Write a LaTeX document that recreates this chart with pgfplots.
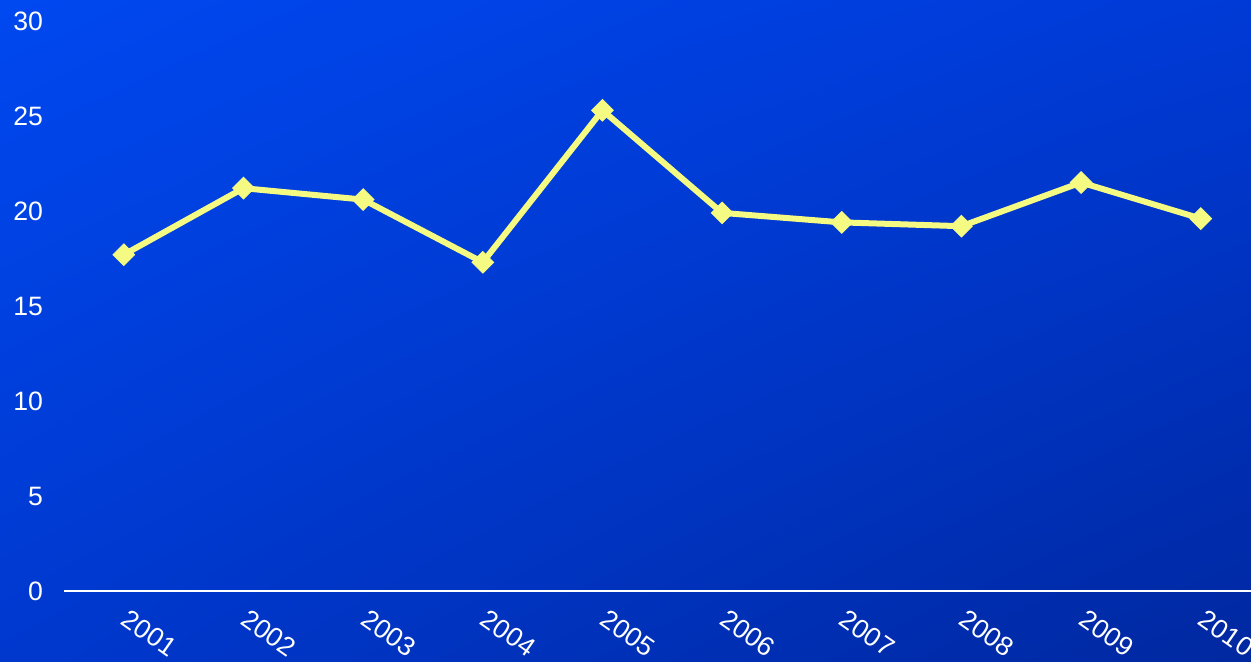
\documentclass[border=0pt]{standalone}
\usepackage{fontspec}
\setmainfont{Liberation Sans}
\usepackage{pgfplots}
\pgfplotsset{compat=1.18}
\usetikzlibrary{shadings}
\definecolor{bgTL}{RGB}{0,72,240}
\definecolor{bgTR}{RGB}{0,58,214}
\definecolor{bgBL}{RGB}{0,56,206}
\definecolor{bgBR}{RGB}{0,40,160}
\definecolor{lineyel}{RGB}{245,250,130}

\begin{document}
\begin{tikzpicture}
% whole picture is 1251x662 px at 0.5pt per px
\path[use as bounding box] (0,0) rectangle (625.5pt,331pt);
\clip (0,0) rectangle (625.5pt,331pt);
\shade[upper left=bgTL, upper right=bgTR, lower left=bgBL, lower right=bgBR]
    (0,0) rectangle (625.5pt,331pt);
\begin{axis}[
    at={(32pt,35.5pt)}, anchor=south west,
    scale only axis,
    width=593.5pt, height=285pt,
    xmin=2000.5, xmax=2010.42,
    ymin=0, ymax=30,
    ytick={0,5,...,30},
    xtick={2001,...,2010},
    axis x line=bottom,
    axis y line=left,
    x axis line style={white, line width=1pt, -},
    y axis line style={draw=none},
    major tick length=0pt,
    clip=false,
    /pgf/number format/assume math mode=true,
    /pgf/number format/1000 sep={},
    tick label style={white, font=\fontsize{13.3}{16}\selectfont},
    yticklabel style={anchor=east, xshift=-7pt},
    xticklabel style={rotate=-35, anchor=north west, inner sep=0pt, xshift=7.6pt, yshift=-5.1pt},
]
\addplot[lineyel, line width=3pt, mark=square*, mark size=3.8pt,
    mark options={rotate=45, fill=lineyel, draw=lineyel, line width=0.5pt}]
coordinates {
    (2001,17.7) (2002,21.2) (2003,20.6) (2004,17.3) (2005,25.3)
    (2006,19.9) (2007,19.4) (2008,19.2) (2009,21.5) (2010,19.6)
};
\end{axis}
\end{tikzpicture}
\end{document}
